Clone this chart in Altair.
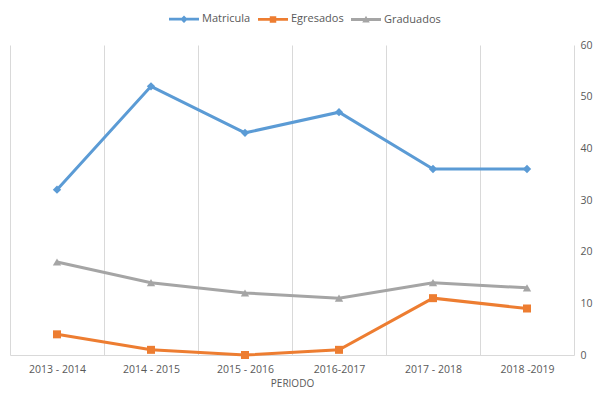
import altair as alt
import pandas as pd

periodos = ["2013 - 2014", "2014 - 2015", "2015 - 2016", "2016-2017", "2017 - 2018", "2018 -2019"]
series = ["Matricula", "Egresados", "Graduados"]
matricula = [32, 52, 43, 47, 36, 36]
egresados = [4, 1, 0, 1, 11, 9]
graduados = [18, 14, 12, 11, 14, 13]
colors = ["#5B9BD5", "#ED7D31", "#A5A5A5"]
marker_shapes = ["diamond", "square", "triangle-up"]
marker_sizes = [70, 64, 70]
# legend symbols: a short line with the marker on it
legend_paths = [
    "M-3,-0.28H3V0.28H-3Z M0,-0.75L0.75,0L0,0.75L-0.75,0Z",
    "M-3,-0.28H3V0.28H-3Z M-0.65,-0.65H0.65V0.65H-0.65Z",
    "M-3,-0.28H3V0.28H-3Z M0,-0.75L0.75,0.6H-0.75Z",
]

rows = []
for s, vals in zip(series, [matricula, egresados, graduados]):
    for p, v in zip(periodos, vals):
        rows.append({"Periodo": p, "Serie": s, "Valor": v})
df = pd.DataFrame(rows)

FONT = "Open Sans"
GRAY_TXT = "#595959"

x_enc = alt.X(
    "Periodo:N",
    sort=periodos,
    title="PERIODO",
    scale=alt.Scale(type="band", paddingInner=0, paddingOuter=0),
    axis=alt.Axis(
        tickBand="extent",
        grid=True,
        gridColor="#d9d9d9",
        gridWidth=1,
        ticks=False,
        domainColor="#d9d9d9",
        labelAngle=0,
        labelPadding=9,
        labelFont=FONT,
        labelFontSize=10.5,
        labelColor=GRAY_TXT,
        titleFont=FONT,
        titleFontSize=10,
        titleFontWeight="normal",
        titleColor=GRAY_TXT,
        titlePadding=4,
    ),
)
y_enc = alt.Y(
    "Valor:Q",
    title=None,
    scale=alt.Scale(domain=[0, 60], nice=False, zero=True),
    axis=alt.Axis(
        orient="right",
        values=[0, 10, 20, 30, 40, 50, 60],
        grid=False,
        domain=False,
        ticks=False,
        labelPadding=6,
        labelFont=FONT,
        labelFontSize=10.5,
        labelColor=GRAY_TXT,
    ),
)
color_scale = alt.Scale(domain=series, range=colors)

base = alt.Chart(df)

lines = base.mark_line(strokeWidth=3).encode(
    x=x_enc, y=y_enc,
    color=alt.Color("Serie:N", scale=color_scale, legend=None),
    detail="Serie:N",
)

point_layers = []
for s, shp, sz in zip(series, marker_shapes, marker_sizes):
    point_layers.append(
        base.transform_filter(alt.datum.Serie == s)
        .mark_point(filled=True, shape=shp, size=sz, opacity=1)
        .encode(
            x=x_enc, y=y_enc,
            color=alt.Color("Serie:N", scale=color_scale, legend=None),
        )
    )

leg = alt.Legend(
    title=None,
    orient="none",
    direction="horizontal",
    legendX=168,
    legendY=-32,
    padding=0,
    symbolSize=100,
    labelOffset=12,
    columnPadding=4,
    labelFont=FONT,
    labelFontSize=11,
    labelColor=GRAY_TXT,
    symbolOpacity=1,
)

legend_layer = base.mark_point(filled=True, opacity=0, size=100).encode(
    x=x_enc, y=y_enc,
    color=alt.Color("Serie:N", scale=color_scale, legend=leg, sort=series),
    shape=alt.Shape("Serie:N", scale=alt.Scale(domain=series, range=legend_paths), legend=leg, sort=series),
)

chart = (
    alt.layer(lines, *point_layers, legend_layer)
    .resolve_legend(color="independent", shape="independent")
    .properties(
        width=564,
        height=310,
        autosize=alt.AutoSizeParams(type="none"),
        padding={"left": 2, "top": 37, "right": 20, "bottom": 39},
        background="white",
    )
    .configure_view(stroke=None)
)

chart.save("out.html", embed_options={"renderer": "svg", "actions": False})
